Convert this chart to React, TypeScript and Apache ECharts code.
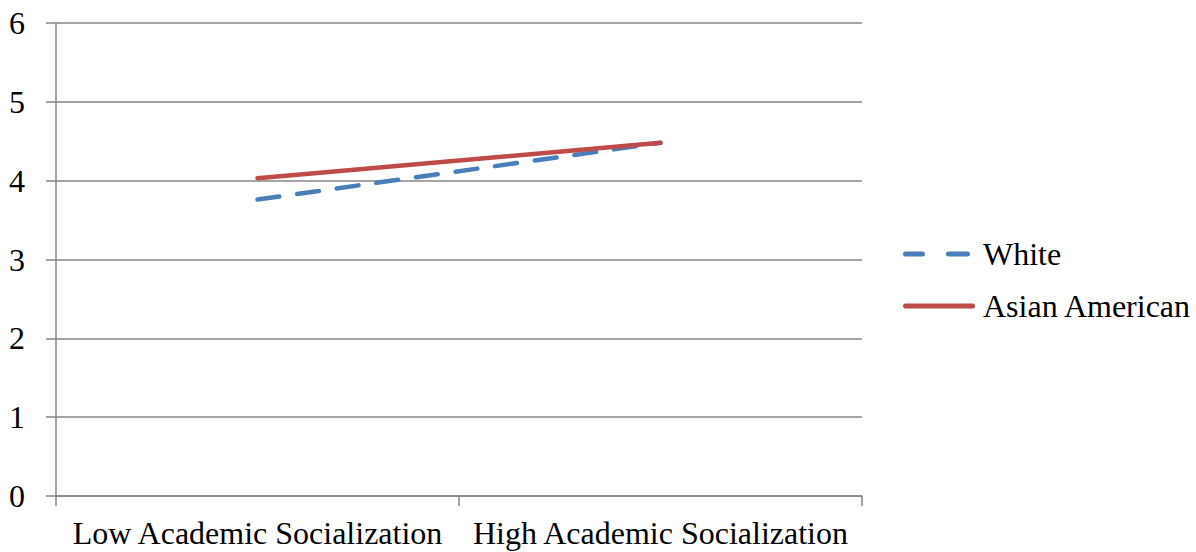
import React, { useEffect, useRef } from "react";
import * as echarts from "echarts";

const categories = ["Low Academic Socialization", "High Academic Socialization"];
const whiteValues = [3.76, 4.48];
const asianValues = [4.03, 4.48];
const yTicks = [0, 1, 2, 3, 4, 5, 6];

const FONT = "Liberation Serif, Times New Roman, serif";

const WHITE_ICON =
  "path://M2.5,0 H19.5 A2.5,2.5 0 0 1 19.5,5 H2.5 A2.5,2.5 0 0 1 2.5,0 Z M45.5,0 H64.5 A2.5,2.5 0 0 1 64.5,5 H45.5 A2.5,2.5 0 0 1 45.5,0 Z M72,2.5 Z";
const ASIAN_ICON = "path://M2.5,0 H69.5 A2.5,2.5 0 0 1 69.5,5 H2.5 A2.5,2.5 0 0 1 2.5,0 Z";

export default function App() {
  const ref = useRef<HTMLDivElement>(null);
  useEffect(() => {
    if (!ref.current) return;
    const chart = echarts.init(ref.current, undefined, { renderer: "svg" });
    chart.setOption({
      animation: false,
      backgroundColor: "#ffffff",
      textStyle: { fontFamily: FONT },
      grid: { left: 56, right: 334, top: 23, bottom: 56, containLabel: false },
      legend: {
        orient: "vertical",
        left: 903,
        top: 238,
        padding: 0,
        itemWidth: 72,
        itemHeight: 5,
        itemGap: 20,
        symbolKeepAspect: true,
        textStyle: { fontFamily: FONT, fontSize: 32, color: "#000", lineHeight: 32, padding: [0, 0, 0, 3] },
        data: [
          { name: "White", icon: WHITE_ICON, itemStyle: { color: "#4A7EBB" } },
          { name: "Asian American", icon: ASIAN_ICON, itemStyle: { color: "#BE4B48" } },
        ],
      },
      xAxis: {
        type: "category",
        data: categories,
        boundaryGap: true,
        axisLine: { lineStyle: { color: "#868686", width: 1.5 } },
        axisTick: { show: true, length: 10, lineStyle: { color: "#868686", width: 1.5 } },
        axisLabel: { fontFamily: FONT, fontSize: 32, color: "#000", margin: 21, interval: 0, lineHeight: 32 },
        splitLine: { show: false },
      },
      yAxis: {
        type: "value",
        min: yTicks[0],
        max: yTicks[yTicks.length - 1],
        interval: 1,
        axisLine: { show: true, lineStyle: { color: "#868686", width: 1.5 } },
        axisTick: { show: true, length: 10, lineStyle: { color: "#868686", width: 1.5 } },
        axisLabel: { fontFamily: FONT, fontSize: 32, color: "#000", margin: 31 },
        splitLine: { show: true, lineStyle: { color: "#868686", width: 1.5 } },
      },
      series: [
        {
          name: "White",
          type: "line",
          data: whiteValues,
          symbol: "none",
          showSymbol: false,
          color: "#4A7EBB",
          lineStyle: { color: "#4A7EBB", width: 4.5, type: [22, 18], cap: "round" },
        },
        {
          name: "Asian American",
          type: "line",
          data: asianValues,
          symbol: "none",
          showSymbol: false,
          color: "#BE4B48",
          lineStyle: { color: "#BE4B48", width: 4.5, type: "solid", cap: "round" },
        },
      ],
    });
    return () => chart.dispose();
  }, []);
  return <div ref={ref} style={{ width: 1196, height: 552, position: "absolute", left: 0, top: 0 }} />;
}
